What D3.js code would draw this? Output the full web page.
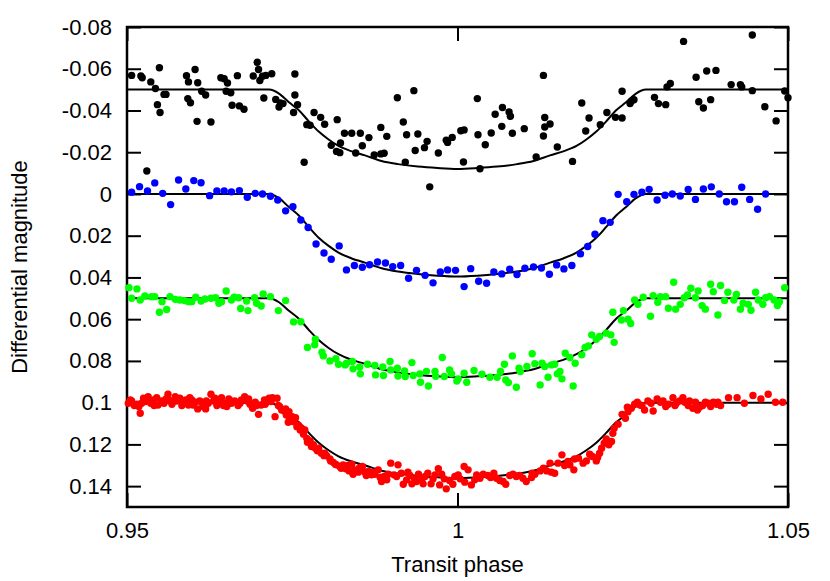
<!DOCTYPE html>
<html>
<head>
<meta charset="utf-8">
<script src="https://cdn.jsdelivr.net/npm/d3@7"></script>
<style>
html,body{margin:0;padding:0;background:#fff;}
svg text{font-family:"Liberation Sans",Arial,Helvetica,sans-serif;fill:#000;}
</style>
</head>
<body>
<svg id="chart" width="830" height="581"></svg>
<script>
// ---- data ----
const xTicks = [0.95, 1.0, 1.05];
const yTicks = [-0.08,-0.06,-0.04,-0.02,0,0.02,0.04,0.06,0.08,0.1,0.12,0.14];

const modelPhase = [0.95,0.9715,0.9730,0.9745,0.9760,0.9775,0.9790,0.9805,0.9820,0.9840,0.9860,0.9885,0.9910,0.9940,0.9970,1.0000,1.0030,1.0060,1.0090,1.0115,1.0140,1.0160,1.0180,1.0195,1.0210,1.0225,1.0240,1.0255,1.0270,1.0285,1.05];
const blackModel = [-0.0500,-0.0500,-0.0481,-0.0439,-0.0401,-0.0348,-0.0299,-0.0261,-0.0230,-0.0204,-0.0185,-0.0158,-0.0143,-0.0131,-0.0124,-0.0120,-0.0124,-0.0131,-0.0143,-0.0158,-0.0185,-0.0204,-0.0230,-0.0261,-0.0299,-0.0348,-0.0401,-0.0439,-0.0481,-0.0500,-0.0500];
const blueModel = [0,0,0.0020,0.0063,0.0103,0.0158,0.0210,0.0249,0.0281,0.0309,0.0329,0.0356,0.0372,0.0384,0.0392,0.0396,0.0392,0.0384,0.0372,0.0356,0.0329,0.0309,0.0281,0.0249,0.0210,0.0158,0.0103,0.0063,0.0020,0,0];
const greenModel = [0.05,0.05,0.0519,0.0560,0.0598,0.0651,0.0700,0.0738,0.0768,0.0795,0.0814,0.0840,0.0855,0.0867,0.0874,0.0878,0.0874,0.0867,0.0855,0.0840,0.0814,0.0795,0.0768,0.0738,0.0700,0.0651,0.0598,0.0560,0.0519,0.05,0.05];
const redModel = [0.1,0.1,0.1018,0.1058,0.1094,0.1145,0.1192,0.1228,0.1257,0.1282,0.1300,0.1326,0.1340,0.1351,0.1358,0.1362,0.1358,0.1351,0.1340,0.1326,0.1300,0.1282,0.1257,0.1228,0.1192,0.1145,0.1094,0.1058,0.1018,0.1,0.1];

const blackPoints = [
[0.9507,-0.0568],[0.9521,-0.0565],[0.9523,-0.0557],[0.9536,-0.0537],[0.9549,-0.0605],[0.9543,-0.0505],[0.9556,-0.0477],[0.9559,-0.0477],[0.9546,-0.0428],[0.9550,-0.0390],
[0.9590,-0.0567],[0.9593,-0.0537],[0.9603,-0.0596],[0.9607,-0.0533],[0.9592,-0.0457],[0.9596,-0.0437],[0.9613,-0.0492],[0.9619,-0.0474],[0.9606,-0.0348],[0.9627,-0.0345],
[0.9642,-0.0557],[0.9647,-0.0552],[0.9652,-0.0532],[0.9650,-0.0492],[0.9657,-0.0485],[0.9667,-0.0567],[0.9659,-0.0425],[0.9670,-0.0422],[0.9677,-0.0406],[0.9697,-0.0631],
[0.9699,-0.0596],[0.9691,-0.0565],[0.9701,-0.0544],[0.9705,-0.0564],[0.9710,-0.0568],[0.9719,-0.0576],[0.9707,-0.0460],[0.9725,-0.0453],[0.9732,-0.0436],[0.9730,-0.0417],
[0.9736,-0.0433],[0.9754,-0.0575],[0.9754,-0.0474],[0.9758,-0.0428],[0.9752,-0.0390],[0.9783,-0.0390],[0.9793,-0.0367],[0.9799,-0.0334],[0.9772,-0.0332],[0.9777,-0.0329],
[0.9818,-0.0356],[0.9829,-0.0291],[0.9840,-0.0291],[0.9853,-0.0291],[0.9866,-0.0270],[0.9884,-0.0319],[0.9893,-0.0276],[0.9856,-0.0231],[0.9823,-0.0244],[0.9809,-0.0233],
[0.9817,-0.0204],[0.9822,-0.0198],[0.9846,-0.0196],[0.9874,-0.0187],[0.9884,-0.0192],[0.9889,-0.0195],[0.9909,-0.0461],[0.9934,-0.0495],[0.9918,-0.0345],[0.9923,-0.0284],
[0.9940,-0.0287],[0.9954,-0.0252],[0.9950,-0.0222],[0.9936,-0.0208],[0.9971,-0.0196],[0.9983,-0.0257],[0.9985,-0.0247],[0.9992,-0.0271],[0.9921,-0.0152],[0.9768,-0.0152],
[0.9530,-0.0110],[0.9958,-0.0034],
[1.0005,-0.0303],[1.0010,-0.0307],[1.0009,-0.0153],[1.0030,-0.0457],[1.0031,-0.0284],[1.0034,-0.0121],[1.0042,-0.0236],[1.0051,-0.0292],[1.0057,-0.0382],[1.0067,-0.0324],
[1.0068,-0.0414],[1.0078,-0.0393],[1.0080,-0.0372],[1.0083,-0.0291],[1.0101,-0.0313],[1.0119,-0.0177],[1.0130,-0.0568],[1.0132,-0.0366],[1.0132,-0.0321],[1.0130,-0.0278],
[1.0140,-0.0335],[1.0151,-0.0225],[1.0174,-0.0156],[1.0188,-0.0436],[1.0194,-0.0302],[1.0199,-0.0364],[1.0216,-0.0332],[1.0226,-0.0390],[1.0239,-0.0367],[1.0249,-0.0364],
[1.0249,-0.0492],[1.0261,-0.0433],[1.0263,-0.0444],[1.0267,-0.0452],[1.0298,-0.0463],[1.0304,-0.0433],[1.0315,-0.0428],[1.0317,-0.0513],[1.0322,-0.0529],[1.0342,-0.0731],
[1.0361,-0.0559],[1.0365,-0.0442],[1.0372,-0.0412],[1.0377,-0.0589],[1.0383,-0.0452],[1.0391,-0.0592],[1.0414,-0.0524],[1.0428,-0.0524],[1.0430,-0.0513],[1.0446,-0.0762],
[1.0446,-0.0495],[1.0465,-0.0418],[1.0482,-0.0350],[1.0495,-0.0493],[1.0500,-0.0461]
];

const bluePoints = [
[0.9507,-0.0008],[0.9519,-0.0035],[0.9531,-0.0014],[0.9542,-0.0053],[0.9554,-0.0003],[0.9566,0.0051],[0.9578,-0.0067],[0.9589,-0.0024],[0.9601,-0.0064],[0.9612,-0.0054],
[0.9625,0.0008],[0.9636,-0.0014],[0.9647,-0.0014],[0.9658,-0.0010],[0.9670,-0.0016],[0.9682,0.0016],[0.9694,-0.0003],[0.9705,0.0000],[0.9717,0.0011],[0.9728,0.0029],
[0.9740,0.0081],[0.9751,0.0061],[0.9763,0.0125],[0.9774,0.0161],[0.9786,0.0240],[0.9798,0.0283],[0.9809,0.0313],[0.9821,0.0249],[0.9832,0.0364],[0.9844,0.0343],
[0.9856,0.0351],[0.9867,0.0339],[0.9879,0.0326],[0.9891,0.0331],[0.9902,0.0348],[0.9914,0.0343],[0.9926,0.0404],[0.9938,0.0366],[0.9951,0.0390],[0.9963,0.0426],
[0.9974,0.0374],[0.9985,0.0364],[0.9997,0.0366],
[1.0010,0.0444],[1.0020,0.0358],[1.0032,0.0418],[1.0044,0.0428],[1.0055,0.0374],[1.0067,0.0383],[1.0079,0.0361],[1.0090,0.0386],[1.0102,0.0356],[1.0115,0.0350],
[1.0127,0.0355],[1.0139,0.0385],[1.0150,0.0340],[1.0161,0.0359],[1.0173,0.0343],[1.0186,0.0287],[1.0197,0.0252],[1.0208,0.0193],[1.0220,0.0128],[1.0231,0.0136],
[1.0243,0.0002],[1.0256,0.0037],[1.0267,0.0002],[1.0279,-0.0008],[1.0290,-0.0022],[1.0302,0.0029],[1.0314,0.0006],[1.0325,0.0000],[1.0337,0.0010],[1.0349,-0.0021],
[1.0360,0.0026],[1.0372,-0.0024],[1.0384,-0.0034],[1.0396,0.0000],[1.0407,0.0037],[1.0419,0.0037],[1.0430,-0.0032],[1.0442,0.0026],[1.0454,0.0073],[1.0466,0.0000]
];

const greenPoints = [
[0.9503,0.0449],[0.9515,0.0455],[0.9507,0.0500],[0.9520,0.0508],[0.9527,0.0489],[0.9537,0.0492],[0.9542,0.0492],[0.9549,0.0567],[0.9553,0.0516],[0.9560,0.0554],
[0.9565,0.0492],[0.9573,0.0505],[0.9580,0.0508],[0.9587,0.0511],[0.9593,0.0516],[0.9598,0.0516],[0.9604,0.0495],[0.9612,0.0513],[0.9618,0.0503],[0.9627,0.0500],
[0.9634,0.0497],[0.9639,0.0524],[0.9643,0.0516],[0.9650,0.0465],[0.9658,0.0508],[0.9662,0.0495],[0.9669,0.0497],[0.9672,0.0549],[0.9681,0.0513],[0.9683,0.0559],
[0.9693,0.0497],[0.9696,0.0524],[0.9703,0.0537],[0.9706,0.0479],[0.9717,0.0492],[0.9729,0.0559],[0.9740,0.0511],[0.9752,0.0613],[0.9763,0.0612],[0.9773,0.0736],
[0.9785,0.0696],[0.9784,0.0723],[0.9795,0.0758],[0.9797,0.0776],[0.9807,0.0800],[0.9816,0.0789],[0.9820,0.0816],[0.9830,0.0819],[0.9832,0.0811],[0.9841,0.0803],
[0.9842,0.0838],[0.9852,0.0829],[0.9853,0.0862],[0.9864,0.0816],[0.9875,0.0822],[0.9876,0.0867],[0.9887,0.0829],[0.9888,0.0870],[0.9898,0.0803],[0.9899,0.0843],
[0.9909,0.0835],[0.9910,0.0872],[0.9920,0.0848],[0.9921,0.0875],[0.9931,0.0808],[0.9933,0.0870],[0.9943,0.0862],[0.9944,0.0902],[0.9953,0.0850],[0.9956,0.0920],
[0.9966,0.0851],[0.9967,0.0874],[0.9977,0.0784],[0.9980,0.0875],[0.9988,0.0843],[0.9991,0.0862],[0.9999,0.0896],
[1.0001,0.0886],[1.0010,0.0859],[1.0014,0.0902],[1.0025,0.0846],[1.0037,0.0864],[1.0049,0.0878],[1.0060,0.0878],[1.0065,0.0851],[1.0071,0.0816],[1.0073,0.0891],
[1.0077,0.0904],[1.0083,0.0776],[1.0089,0.0926],[1.0093,0.0835],[1.0095,0.0851],[1.0105,0.0827],[1.0113,0.0766],[1.0117,0.0813],[1.0125,0.0915],[1.0128,0.0811],
[1.0132,0.0827],[1.0137,0.0878],[1.0142,0.0819],[1.0147,0.0816],[1.0151,0.0862],[1.0155,0.0851],[1.0158,0.0886],[1.0163,0.0763],[1.0170,0.0784],[1.0175,0.0920],
[1.0178,0.0811],[1.0188,0.0771],[1.0193,0.0736],[1.0198,0.0728],[1.0203,0.0675],[1.0210,0.0696],[1.0215,0.0683],[1.0225,0.0667],[1.0232,0.0675],[1.0237,0.0711],
[1.0235,0.0567],[1.0248,0.0604],[1.0251,0.0559],[1.0258,0.0600],[1.0262,0.0621],[1.0268,0.0508],[1.0273,0.0529],[1.0281,0.0495],[1.0292,0.0586],[1.0296,0.0487],
[1.0303,0.0519],[1.0307,0.0492],[1.0315,0.0492],[1.0319,0.0548],[1.0327,0.0423],[1.0330,0.0552],[1.0337,0.0529],[1.0343,0.0497],[1.0348,0.0484],[1.0353,0.0452],
[1.0360,0.0497],[1.0364,0.0465],[1.0370,0.0535],[1.0375,0.0552],[1.0383,0.0433],[1.0387,0.0468],[1.0394,0.0580],[1.0398,0.0439],[1.0404,0.0511],[1.0409,0.0471],
[1.0418,0.0508],[1.0422,0.0481],[1.0428,0.0552],[1.0432,0.0524],[1.0440,0.0529],[1.0444,0.0557],[1.0451,0.0471],[1.0455,0.0508],[1.0462,0.0529],[1.0466,0.0497],
[1.0472,0.0492],[1.0479,0.0508],[1.0484,0.0535],[1.0487,0.0516],[1.0495,0.0449]
];

const redPoints = [
[0.9502,0.1003],[0.9507,0.0992],[0.9511,0.1014],[0.9515,0.1008],[0.9520,0.1051],[0.9518,0.1019],[0.9525,0.0979],[0.9528,0.0995],[0.9532,0.0971],[0.9536,0.1003],
[0.9540,0.0987],[0.9545,0.0976],[0.9547,0.1011],[0.9552,0.0992],[0.9556,0.1003],[0.9562,0.0960],[0.9563,0.0987],[0.9568,0.1008],[0.9573,0.0971],[0.9575,0.0992],
[0.9580,0.0979],[0.9585,0.1003],[0.9589,0.0987],[0.9593,0.1011],[0.9598,0.0987],[0.9603,0.0998],[0.9607,0.1030],[0.9610,0.0992],[0.9615,0.1019],[0.9619,0.1030],
[0.9623,0.1003],[0.9627,0.0960],[0.9631,0.0992],[0.9636,0.1014],[0.9639,0.0987],[0.9643,0.0976],[0.9647,0.1003],[0.9651,0.1019],[0.9654,0.0982],[0.9658,0.1003],
[0.9663,0.0992],[0.9668,0.1014],[0.9673,0.0987],[0.9678,0.0971],[0.9682,0.0992],[0.9686,0.1008],[0.9690,0.1027],[0.9694,0.0998],[0.9699,0.1056],[0.9703,0.1011],
[0.9708,0.0987],[0.9711,0.0998],[0.9715,0.0979],[0.9720,0.0976],[0.9724,0.1067],[0.9727,0.0979],[0.9729,0.1014],[0.9731,0.1019],[0.9734,0.1035],[0.9738,0.1040],
[0.9505,0.0987],[0.9522,0.1003],[0.9541,0.1014],[0.9559,0.0982],[0.9570,0.0992],[0.9583,0.1014],[0.9595,0.0976],[0.9600,0.1011],[0.9613,0.0998],[0.9620,0.0992],
[0.9633,0.0979],[0.9646,0.1014],[0.9657,0.0992],[0.9671,0.1003],[0.9684,0.0982],[0.9696,0.1014],[0.9709,0.1008],[0.9718,0.0995],
[0.9740,0.1030],[0.9741,0.1059],[0.9744,0.1094],[0.9745,0.1043],[0.9746,0.1078],[0.9750,0.1067],[0.9752,0.1091],[0.9755,0.1072],[0.9757,0.1115],[0.9759,0.1107],
[0.9762,0.1131],[0.9764,0.1123],[0.9767,0.1151],[0.9769,0.1131],[0.9772,0.1171],[0.9773,0.1190],[0.9777,0.1183],[0.9779,0.1210],[0.9782,0.1202],[0.9785,0.1218],
[0.9788,0.1231],[0.9790,0.1218],[0.9794,0.1242],[0.9798,0.1254],[0.9799,0.1242],[0.9802,0.1254],[0.9807,0.1270],[0.9808,0.1279],[0.9812,0.1286],[0.9815,0.1295],
[0.9817,0.1298],[0.9822,0.1306],[0.9824,0.1314],[0.9827,0.1298],[0.9831,0.1317],[0.9834,0.1301],[0.9836,0.1327],[0.9840,0.1295],[0.9842,0.1343],[0.9845,0.1322],
[0.9850,0.1333],[0.9852,0.1311],[0.9856,0.1306],[0.9860,0.1333],[0.9862,0.1349],[0.9865,0.1330],[0.9870,0.1346],[0.9872,0.1333],[0.9875,0.1343],[0.9880,0.1322],
[0.9883,0.1359],[0.9885,0.1378],[0.9889,0.1354],[0.9893,0.1370],[0.9895,0.1343],[0.9899,0.1290],[0.9904,0.1346],[0.9908,0.1354],[0.9910,0.1298],[0.9915,0.1338],
[0.9918,0.1391],[0.9923,0.1370],[0.9925,0.1333],[0.9928,0.1349],[0.9931,0.1389],[0.9935,0.1365],[0.9938,0.1378],[0.9941,0.1343],[0.9946,0.1370],[0.9948,0.1389],
[0.9951,0.1354],[0.9955,0.1338],[0.9960,0.1389],[0.9963,0.1365],[0.9966,0.1346],[0.9971,0.1317],[0.9973,0.1394],[0.9976,0.1343],[0.9980,0.1365],[0.9983,0.1413],
[0.9988,0.1373],[0.9993,0.1391],[0.9996,0.1354],[1.0001,0.1346],
[1.0004,0.1365],[1.0010,0.1306],[1.0011,0.1381],[1.0016,0.1322],[1.0021,0.1394],[1.0029,0.1346],[1.0034,0.1362],[1.0039,0.1343],[1.0046,0.1349],[1.0050,0.1359],
[1.0055,0.1338],[1.0059,0.1362],[1.0064,0.1373],[1.0069,0.1378],[1.0073,0.1391],[1.0079,0.1349],[1.0084,0.1343],[1.0089,0.1354],[1.0094,0.1349],[1.0099,0.1362],
[1.0104,0.1378],[1.0113,0.1338],[1.0117,0.1343],[1.0125,0.1327],[1.0130,0.1314],[1.0135,0.1327],[1.0140,0.1290],[1.0142,0.1333],[1.0147,0.1338],[1.0152,0.1290],
[1.0158,0.1250],[1.0162,0.1301],[1.0170,0.1298],[1.0176,0.1322],[1.0177,0.1270],[1.0183,0.1266],[1.0190,0.1290],[1.0195,0.1279],[1.0200,0.1247],[1.0204,0.1258],
[1.0210,0.1279],[1.0212,0.1263],[1.0218,0.1218],[1.0222,0.1194],[1.0225,0.1174],[1.0229,0.1202],[1.0233,0.1186],[1.0237,0.1123],[1.0243,0.1103],[1.0249,0.1056],
[1.0254,0.1075],[1.0257,0.1022],[1.0263,0.1027],[1.0268,0.1008],[1.0272,0.0998],[1.0279,0.1014],[1.0283,0.1035],[1.0288,0.0992],[1.0296,0.1040],[1.0302,0.0982],
[1.0307,0.0998],[1.0315,0.1019],[1.0319,0.1008],[1.0326,0.0976],[1.0329,0.1014],[1.0336,0.0992],[1.0341,0.0976],[1.0349,0.1014],[1.0351,0.0992],[1.0360,0.0998],
[1.0363,0.1035],[1.0366,0.1022],[1.0371,0.1014],[1.0375,0.0998],[1.0383,0.1019],[1.0387,0.0998],[1.0394,0.0998],[1.0398,0.1014],[1.0410,0.0976],[1.0423,0.0976],
[1.0434,0.1003],[1.0447,0.0966],[1.0459,0.0982],[1.0470,0.0960],[1.0481,0.0998],[1.0492,0.0998],
[1.0258,0.1043],[1.0276,0.1011],[1.0293,0.1003],[1.0311,0.0992],[1.0331,0.1003],[1.0344,0.0998],[1.0356,0.1027],[1.0379,0.1003],[1.0392,0.1008],[1.0235,0.1147],
[1.0215,0.1242],[1.0167,0.1282],[1.0112,0.1359],[1.0026,0.1370]
];

const series = [
  {points: blackPoints, model: blackModel, color: "#000000"},
  {points: bluePoints,  model: blueModel,  color: "#0000ff"},
  {points: greenPoints, model: greenModel, color: "#00ff00"},
  {points: redPoints,   model: redModel,   color: "#ff0000"}
];

// ---- layout ----
const L = 127, R = 788, T = 27, B = 507;
const svg = d3.select("#chart");
const x = d3.scaleLinear().domain([0.95, 1.05]).range([L, R]);
const y = d3.scaleLinear().domain([-0.08, 0.15]).range([T, B]);
const fmt = v => String(+v.toFixed(2));
const TL = 14;

// axes (ticks inward, mirrored)
svg.append("g").attr("transform", `translate(${L},0)`)
  .call(d3.axisLeft(y).tickValues(yTicks).tickSize(-TL).tickPadding(15).tickFormat(fmt))
  .call(g => g.select(".domain").remove());
svg.append("g").attr("transform", `translate(${R},0)`)
  .call(d3.axisRight(y).tickValues(yTicks).tickSize(-TL).tickFormat(""))
  .call(g => g.select(".domain").remove());
svg.append("g").attr("transform", `translate(0,${B})`)
  .call(d3.axisBottom(x).tickValues(xTicks).tickSize(-TL).tickPadding(15).tickFormat(fmt))
  .call(g => g.select(".domain").remove());
svg.append("g").attr("transform", `translate(0,${T})`)
  .call(d3.axisTop(x).tickValues(xTicks).tickSize(-TL).tickFormat(""))
  .call(g => g.select(".domain").remove());
svg.selectAll(".tick line").attr("stroke", "#000").attr("stroke-width", 2);
svg.selectAll(".tick text").attr("font-size", 22).attr("font-family", "Liberation Sans, Arial, sans-serif");

// frame
svg.append("rect").attr("x", L).attr("y", T).attr("width", R - L).attr("height", B - T)
  .attr("fill", "none").attr("stroke", "#000").attr("stroke-width", 2.5);

// model curves
const line = d3.line().x((d, i) => x(modelPhase[i])).y(d => y(d)).curve(d3.curveMonotoneX);
series.forEach(s => {
  svg.append("path").datum(s.model).attr("d", line)
    .attr("fill", "none").attr("stroke", "#000").attr("stroke-width", 2);
});

// data points
series.forEach(s => {
  svg.append("g").selectAll("circle").data(s.points).join("circle")
    .attr("cx", d => x(d[0])).attr("cy", d => y(d[1])).attr("r", 3.7)
    .attr("fill", s.color);
});

// axis titles
svg.append("text").attr("x", x(1.0)).attr("y", 572).attr("text-anchor", "middle")
  .attr("font-size", 22).text("Transit phase");
svg.append("text").attr("transform", `translate(27,${(T + B) / 2}) rotate(-90)`)
  .attr("text-anchor", "middle").attr("font-size", 22).text("Differential magnitude");
</script>
</body>
</html>
